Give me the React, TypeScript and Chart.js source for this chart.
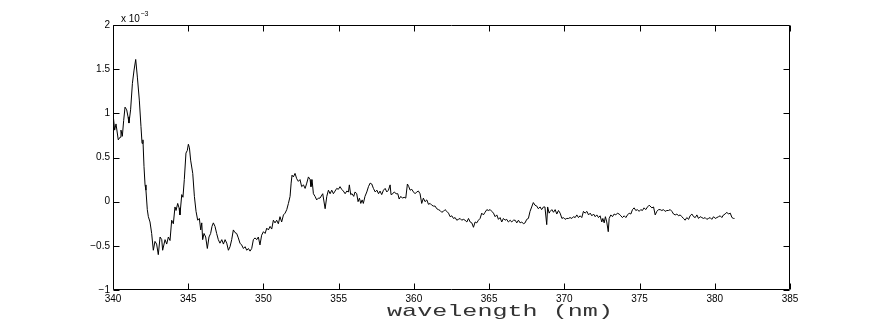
import React, { useEffect, useRef } from "react";
import { Chart, registerables } from "chart.js";

Chart.register(...registerables);

// wavelength (nm)
const wavelengths = [
  340.0, 340.11, 340.2, 340.35, 340.47, 340.53, 340.62, 340.71, 340.8, 340.91, 341.0, 341.06, 341.17, 341.29, 341.4, 341.51, 341.62, 341.75, 341.86, 341.93, 341.99, 342.06, 342.13, 342.19, 342.28,
  342.35, 342.46, 342.57, 342.68, 342.79, 342.9, 343.01, 343.13, 343.24, 343.3, 343.46, 343.57, 343.68, 343.79, 343.9, 344.01, 344.12, 344.19, 344.3, 344.39, 344.45, 344.57, 344.65, 344.74, 344.85, 344.94, 345.01, 345.08, 345.16, 345.3, 345.41, 345.52, 345.63, 345.74, 345.83, 345.9, 345.96, 346.05, 346.16, 346.27, 346.38, 346.49, 346.58, 346.67, 346.78, 346.89, 347.0, 347.11, 347.23, 347.34, 347.45, 347.56, 347.67, 347.78, 347.89, 348.0, 348.11, 348.22, 348.33, 348.44, 348.55, 348.67, 348.78, 348.89, 349.0, 349.11, 349.22, 349.33, 349.44, 349.55, 349.66, 349.77, 349.88, 350.0, 350.11, 350.22, 350.33, 350.44, 350.55, 350.66, 350.77, 350.88, 350.99, 351.1, 351.21, 351.33, 351.44, 351.55, 351.66, 351.77, 351.84, 351.9, 351.99, 352.1, 352.21, 352.32, 352.43, 352.54, 352.66, 352.77, 352.88, 352.99, 353.1, 353.16, 353.23, 353.32, 353.43, 353.54, 353.65,
  353.76, 353.94, 354.1, 354.21, 354.32, 354.43, 354.54, 354.65, 354.76, 354.87, 354.98, 355.09, 355.2, 355.31, 355.43, 355.54, 355.65, 355.71, 355.8, 355.89, 356.0, 356.09, 356.2, 356.29, 356.38, 356.47, 356.56, 356.64, 356.75, 356.87, 356.98, 357.09, 357.2, 357.31, 357.43, 357.54, 357.65, 357.75, 357.86, 357.98, 358.09, 358.2, 358.31, 358.42, 358.48, 358.6, 358.69, 358.82, 358.93, 359.02, 359.13, 359.24, 359.35, 359.46, 359.57, 359.66, 359.75, 359.86, 359.97, 360.08, 360.19, 360.3, 360.41, 360.52, 360.63, 360.74, 360.86, 360.97, 361.08, 361.19, 361.3,
  361.41, 361.52, 361.63, 361.74, 361.85, 361.96, 362.07, 362.19, 362.3, 362.41, 362.52, 362.63, 362.74, 362.85, 362.96, 363.07, 363.18, 363.29, 363.4, 363.52, 363.63, 363.74, 363.85, 363.96, 364.07, 364.18, 364.29, 364.4, 364.51, 364.62, 364.73, 364.85, 364.95, 365.07, 365.18, 365.29, 365.4, 365.51, 365.62, 365.73, 365.84, 365.95, 366.06, 366.17, 366.28, 366.4, 366.5, 366.62, 366.73, 366.84, 366.95, 367.06, 367.17, 367.28, 367.39, 367.5, 367.61, 367.72, 367.83, 367.94, 368.05, 368.17, 368.27, 368.39, 368.49, 368.61, 368.71, 368.83, 368.89, 368.99,
  369.06, 369.17, 369.28, 369.39, 369.5, 369.61, 369.72, 369.84, 369.94, 370.05, 370.16, 370.28, 370.38, 370.5, 370.61, 370.72, 370.83, 370.94, 371.05, 371.16, 371.27, 371.38, 371.5, 371.61, 371.72, 371.83, 371.94, 372.05, 372.16, 372.27, 372.38, 372.49, 372.56, 372.65, 372.73, 372.82, 372.92, 372.98, 373.09, 373.2, 373.31, 373.42, 373.53, 373.64, 373.76, 373.86, 373.98, 374.09, 374.2, 374.31, 374.42, 374.53, 374.64, 374.75, 374.86, 374.97, 375.08, 375.19, 375.3, 375.41, 375.53, 375.64,
  375.82, 375.93, 376.04, 376.15, 376.26, 376.37, 376.48, 376.59, 376.7, 376.81, 376.92, 377.04, 377.15, 377.26, 377.37, 377.48, 377.59, 377.7, 377.81, 377.92, 378.03, 378.14, 378.26, 378.36, 378.48, 378.59, 378.7, 378.81, 378.92, 379.03, 379.14, 379.25, 379.36, 379.47, 379.58, 379.69, 379.8, 379.92, 380.03, 380.14, 380.25, 380.36, 380.47, 380.58, 380.69, 380.8, 380.91, 381.03, 381.14, 381.25, 381.31,
];

// signal, in units of 1e-3
const signal = [
  1.0, 0.81, 0.88, 0.7, 0.73, 0.81, 0.74, 0.92, 1.07, 1.04, 0.96, 0.89, 1.04, 1.34, 1.49, 1.61, 1.41, 1.15, 0.85, 0.66, 0.7, 0.4, 0.19, 0.13, -0.09,
  -0.17, -0.23, -0.36, -0.55, -0.45, -0.48, -0.6, -0.4, -0.43, -0.55, -0.43, -0.48, -0.4, -0.44, -0.21, -0.25, -0.06, -0.1, -0.02, -0.07, -0.15, 0.08, 0.05, 0.25, 0.55, 0.58, 0.65, 0.61, 0.47, 0.32, 0.06, -0.11, -0.21, -0.19, -0.32, -0.24, -0.43, -0.36, -0.4, -0.53, -0.4, -0.36, -0.28, -0.24, -0.28, -0.36, -0.43, -0.47, -0.43, -0.48, -0.43, -0.47, -0.55, -0.51, -0.43, -0.32, -0.35, -0.36, -0.41, -0.47, -0.49, -0.53, -0.51, -0.55, -0.53, -0.56, -0.53, -0.43, -0.41, -0.43, -0.4, -0.49, -0.38, -0.34, -0.36, -0.3, -0.32, -0.28, -0.31, -0.21, -0.24, -0.21, -0.25, -0.17, -0.23, -0.15, -0.13, -0.09, -0.02, 0.06, 0.21, 0.3, 0.28, 0.32, 0.26, 0.23, 0.25, 0.17, 0.19, 0.15, 0.21, 0.28, 0.25, 0.17, 0.25, 0.09, 0.06, 0.02, 0.04,
  0.04, 0.09, -0.08, 0.06, 0.13, 0.09, 0.13, 0.09, 0.12, 0.15, 0.14, 0.17, 0.14, 0.12, 0.09, 0.12, 0.11, 0.19, 0.08, 0.09, 0.06, 0.11, 0.09, 0.0, 0.04, -0.02, 0.02, -0.02, 0.06, 0.11, 0.17, 0.21, 0.2, 0.15, 0.11, 0.13, 0.09, 0.12, 0.08, 0.13, 0.15, 0.11, 0.13, 0.19, 0.08, 0.09, 0.11, 0.09, 0.09, 0.03, 0.06, 0.04, 0.05, 0.04, 0.2, 0.17, 0.13, 0.14, 0.11, 0.09, 0.11, 0.12, 0.09, -0.02, 0.04, 0.0, 0.02, -0.03, -0.02, -0.04, -0.05,
  -0.05, -0.08, -0.09, -0.1, -0.12, -0.11, -0.09, -0.11, -0.13, -0.17, -0.16, -0.19, -0.18, -0.21, -0.2, -0.19, -0.21, -0.2, -0.21, -0.23, -0.19, -0.23, -0.24, -0.29, -0.23, -0.24, -0.21, -0.19, -0.13, -0.15, -0.12, -0.09, -0.1, -0.09, -0.11, -0.13, -0.17, -0.15, -0.2, -0.18, -0.23, -0.19, -0.21, -0.2, -0.23, -0.21, -0.23, -0.21, -0.21, -0.24, -0.21, -0.24, -0.23, -0.25, -0.24, -0.2, -0.19, -0.11, -0.06, -0.01, -0.04, -0.05, -0.08, -0.06, -0.09, -0.06, -0.06, -0.26, -0.06, -0.13,
  -0.11, -0.09, -0.12, -0.09, -0.14, -0.1, -0.13, -0.19, -0.18, -0.2, -0.19, -0.19, -0.18, -0.19, -0.17, -0.18, -0.15, -0.18, -0.16, -0.18, -0.11, -0.13, -0.11, -0.15, -0.13, -0.16, -0.14, -0.17, -0.15, -0.18, -0.16, -0.23, -0.19, -0.24, -0.17, -0.23, -0.34, -0.19, -0.15, -0.17, -0.14, -0.15, -0.13, -0.14, -0.16, -0.18, -0.16, -0.18, -0.15, -0.13, -0.14, -0.09, -0.07, -0.1, -0.09, -0.11, -0.09, -0.1, -0.07, -0.09, -0.06, -0.04,
  -0.07, -0.06, -0.15, -0.11, -0.09, -0.09, -0.1, -0.09, -0.11, -0.1, -0.1, -0.09, -0.11, -0.14, -0.15, -0.14, -0.16, -0.15, -0.17, -0.19, -0.21, -0.18, -0.2, -0.16, -0.14, -0.17, -0.18, -0.15, -0.19, -0.17, -0.18, -0.19, -0.18, -0.2, -0.19, -0.18, -0.2, -0.17, -0.19, -0.18, -0.17, -0.16, -0.18, -0.15, -0.14, -0.12, -0.14, -0.13, -0.18, -0.19, -0.19,
];

const xTicks = [340, 345, 350, 355, 360, 365, 370, 375, 380, 385];
const xTickLabels = ["340", "345", "350", "355", "360", "365", "370", "375", "380", "385"];
const yTicks = [-1, -0.5, 0, 0.5, 1, 1.5, 2];
const yTickLabels = ["\u22121", "\u22120.5", "0", "0.5", "1", "1.5", "2"];
const xTitle = "wavelength (nm)";
const yExponentBase = "x 10";
const yExponent = "\u22123";

const W = 872;
const H = 327;
const FONT = '"Liberation Sans", Arial, Helvetica, sans-serif';

const framePlugin = {
  id: "matlabFrame",
  afterDraw(chart: any) {
    const { ctx, chartArea } = chart;
    const { left, right, top, bottom } = chartArea;
    const xs = chart.scales.x;
    const ys = chart.scales.y;
    ctx.save();
    ctx.strokeStyle = "#000";
    ctx.lineWidth = 1;
    const L = Math.round(left) + 0.5;
    const R = Math.round(right) - 0.5;
    const T = Math.round(top) + 0.5;
    const B = Math.round(bottom) - 0.5;
    ctx.beginPath();
    ctx.rect(L, T, R - L, B - T);
    ctx.stroke();
    const tl = 6;
    ctx.beginPath();
    xTicks.forEach((v) => {
      const p = Math.round(xs.getPixelForValue(v)) + 0.5;
      ctx.moveTo(p, B);
      ctx.lineTo(p, B - tl);
      ctx.moveTo(p, T);
      ctx.lineTo(p, T + tl);
    });
    yTicks.forEach((v) => {
      const p = Math.round(ys.getPixelForValue(v)) + 0.5;
      ctx.moveTo(L, p);
      ctx.lineTo(L + tl, p);
      ctx.moveTo(R, p);
      ctx.lineTo(R - tl, p);
    });
    ctx.stroke();

    // exponent label
    ctx.fillStyle = "#000";
    ctx.textAlign = "left";
    ctx.textBaseline = "alphabetic";
    ctx.font = `10px ${FONT}`;
    ctx.fillText(yExponentBase, left + 8, top - 3.5);
    const bw = ctx.measureText(yExponentBase).width;
    ctx.font = `7px ${FONT}`;
    ctx.fillText(yExponent, left + 8 + bw + 0.5, top - 9);

    // x title (stretched monospace)
    ctx.font = '17px "Liberation Mono", "DejaVu Sans Mono", monospace';
    const tw = ctx.measureText(xTitle).width;
    const targetW = 226;
    ctx.translate(500, 316);
    ctx.scale(targetW / tw, 1);
    ctx.textAlign = "center";
    ctx.fillStyle = "#333";
    ctx.fillText(xTitle, 0, 0);
    ctx.restore();
  },
};

export default function App() {
  const ref = useRef<HTMLCanvasElement | null>(null);

  useEffect(() => {
    if (!ref.current) return;
    const data = wavelengths.map((x, i) => ({ x, y: signal[i] }));
    const chart = new Chart(ref.current, {
      type: "line",
      data: {
        datasets: [
          {
            data,
            borderColor: "#000",
            borderWidth: 1,
            pointRadius: 0,
            tension: 0,
            fill: false,
          },
        ],
      },
      options: {
        animation: false,
        responsive: false,
        devicePixelRatio: 1,
        events: [],
        layout: { padding: { top: 25, right: 82, left: 0, bottom: 0 } },
        plugins: { legend: { display: false }, tooltip: { enabled: false }, title: { display: false } },
        scales: {
          x: {
            type: "linear",
            min: 340,
            max: 385,
            grid: { display: false, drawTicks: false },
            border: { display: false },
            ticks: {
              stepSize: 5,
              padding: 3,
              color: "#000",
              font: { family: FONT, size: 10 },
              maxRotation: 0,
              autoSkip: false,
              callback: (v: any) => {
                const i = xTicks.indexOf(Number(v));
                return i >= 0 ? xTickLabels[i] : "";
              },
            },
            afterFit: (s: any) => {
              s.height = 37;
            },
          },
          y: {
            type: "linear",
            min: -1,
            max: 2,
            grid: { display: false, drawTicks: false },
            border: { display: false },
            ticks: {
              stepSize: 0.5,
              padding: 3,
              color: "#000",
              font: { family: FONT, size: 10 },
              autoSkip: false,
              callback: (v: any) => {
                const i = yTicks.indexOf(Number(v));
                return i >= 0 ? yTickLabels[i] : "";
              },
            },
            afterFit: (s: any) => {
              s.width = 113;
            },
          },
        },
      },
      plugins: [framePlugin],
    });
    return () => chart.destroy();
  }, []);

  return (
    <div style={{ position: "fixed", left: 0, top: 0, width: W, height: H, background: "#fff" }}>
      <canvas ref={ref} width={W} height={H} style={{ display: "block", width: W, height: H }} />
    </div>
  );
}
